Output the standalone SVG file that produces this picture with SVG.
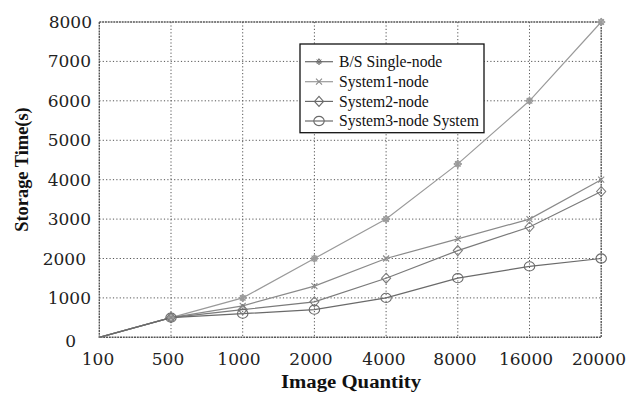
<svg xmlns="http://www.w3.org/2000/svg" xmlns:xlink="http://www.w3.org/1999/xlink" width="630" height="394" viewBox="0 0 630 394">
  <style>
    .grid { stroke: #555; stroke-width: 1; stroke-dasharray: 1.2 2.2; fill: none; }
    .frame { stroke: #555; stroke-width: 1.4; stroke-dasharray: 2 0.8; fill: none; }
    .tick { font-family: "DejaVu Serif", "Liberation Serif", serif; font-size: 17px; fill: #222; }
    .title { font-family: "Liberation Serif", "Times New Roman", serif; font-weight: bold; fill: #111; }
    .leg { font-family: "Liberation Serif", "Times New Roman", serif; font-size: 15.7px; fill: #111; }
    .s0 { stroke: #9a9a9a; }
    .s1 { stroke: #8a8a8a; }
    .s2 { stroke: #7a7a7a; }
    .s3 { stroke: #6a6a6a; }
    .line { fill: none; stroke-width: 1.2; }
    .mk { fill: none; stroke-width: 1.1; }
  </style>
  <defs>
    <!-- series markers, centred on the origin -->
    <g id="m-star"><path d="M-4 0H4M0 -4V4M-2.8 -2.8L2.8 2.8M-2.8 2.8L2.8 -2.8"/><path d="M0 -3.5L3.5 0L0 3.5L-3.5 0Z"/></g>
    <path id="m-x" d="M-3 -3L3 3M-3 3L3 -3"/>
    <path id="m-diamond" d="M0 -5L4.5 0L0 5L-4.5 0Z"/>
    <ellipse id="m-circle" cx="0" cy="0" rx="5.2" ry="4.6"/>
  </defs>

  <rect width="630" height="394" fill="#fff"/>

  <!-- grid -->
  <g id="grid">
    <path class="grid" d="M99.3 297.9H601.2M99.3 258.5H601.2M99.3 219.1H601.2M99.3 179.7H601.2M99.3 140.3H601.2M99.3 100.8H601.2M99.3 61.4H601.2"/>
    <path class="grid" d="M171 22V337.3M242.7 22V337.3M314.4 22V337.3M386.1 22V337.3M457.8 22V337.3M529.5 22V337.3"/>
  </g>

  <!-- plot frame -->
  <rect id="frame" class="frame" x="99.3" y="22" width="501.9" height="315.3"/>

  <!-- y axis ticks -->
  <g id="y-ticks" class="tick" text-anchor="end">
    <text x="92" y="28">8000</text>
    <text x="91" y="67.4">7000</text>
    <text x="91" y="106.8">6000</text>
    <text x="91" y="146.3">5000</text>
    <text x="91" y="185.7">4000</text>
    <text x="91" y="225.1">3000</text>
    <text x="86" y="264.5">2000</text>
    <text x="91" y="303.9">1000</text>
    <text x="76" y="347">0</text>
  </g>

  <!-- x axis ticks -->
  <g id="x-ticks" class="tick" text-anchor="middle">
    <text x="98" y="365">100</text>
    <text x="168" y="365">500</text>
    <text x="239" y="365">1000</text>
    <text x="311" y="365">2000</text>
    <text x="384" y="365">4000</text>
    <text x="455" y="365">8000</text>
    <text x="526" y="365">16000</text>
    <text x="599" y="365">20000</text>
  </g>

  <!-- axis titles -->
  <text id="x-title" class="title" x="351" y="388" font-size="18" text-anchor="middle" textLength="140" lengthAdjust="spacingAndGlyphs">Image Quantity</text>
  <text id="y-title" class="title" transform="translate(28 169.5) rotate(-90)" font-size="18.4" text-anchor="middle">Storage Time(s)</text>

  <!-- data series -->
  <g id="connectors">
    <polyline id="series-bs" class="line s0" points="99.3,337.3 171,317.6 242.7,297.9 314.4,258.5 386.1,219.1 457.8,163.9 529.5,100.8 601.2,22"/>
    <polyline id="series-1" class="line s1" points="99.3,337.3 171,317.6 242.7,305.8 314.4,286.1 386.1,258.5 457.8,238.8 529.5,219.1 601.2,179.7"/>
    <polyline id="series-2" class="line s2" points="99.3,337.3 171,317.6 242.7,309.7 314.4,301.8 386.1,278.2 457.8,250.6 529.5,227 601.2,191.5"/>
    <polyline id="series-3" class="line s3" points="99.3,337.3 171,317.6 242.7,313.7 314.4,309.7 386.1,297.9 457.8,278.2 529.5,266.4 601.2,258.5"/>
  </g>

  <g id="markers-bs" class="mk s0">
    <use href="#m-star" x="171" y="317.6"/>
    <use href="#m-star" x="242.7" y="297.9"/>
    <use href="#m-star" x="314.4" y="258.5"/>
    <use href="#m-star" x="386.1" y="219.1"/>
    <use href="#m-star" x="457.8" y="163.9"/>
    <use href="#m-star" x="529.5" y="100.8"/>
    <use href="#m-star" x="601.2" y="22"/>
  </g>
  <g id="markers-1" class="mk s1">
    <use href="#m-x" x="171" y="317.6"/>
    <use href="#m-x" x="242.7" y="305.8"/>
    <use href="#m-x" x="314.4" y="286.1"/>
    <use href="#m-x" x="386.1" y="258.5"/>
    <use href="#m-x" x="457.8" y="238.8"/>
    <use href="#m-x" x="529.5" y="219.1"/>
    <use href="#m-x" x="601.2" y="179.7"/>
  </g>
  <g id="markers-2" class="mk s2">
    <use href="#m-diamond" x="171" y="317.6"/>
    <use href="#m-diamond" x="242.7" y="309.7"/>
    <use href="#m-diamond" x="314.4" y="301.8"/>
    <use href="#m-diamond" x="386.1" y="278.2"/>
    <use href="#m-diamond" x="457.8" y="250.6"/>
    <use href="#m-diamond" x="529.5" y="227"/>
    <use href="#m-diamond" x="601.2" y="191.5"/>
  </g>
  <g id="markers-3" class="mk s3">
    <use href="#m-circle" x="171" y="317.6"/>
    <use href="#m-circle" x="242.7" y="313.7"/>
    <use href="#m-circle" x="314.4" y="309.7"/>
    <use href="#m-circle" x="386.1" y="297.9"/>
    <use href="#m-circle" x="457.8" y="278.2"/>
    <use href="#m-circle" x="529.5" y="266.4"/>
    <use href="#m-circle" x="601.2" y="258.5"/>
  </g>

  <!-- legend -->
  <g id="legend">
    <rect x="300" y="44" width="184" height="88.7" fill="#fff" stroke="#111" stroke-width="1.3"/>
    <g class="line">
      <path class="s3" d="M305 61.7H333"/>
      <path class="s0" d="M305 81.7H333" stroke="#bbb"/>
      <path class="s3" d="M305 101.4H333"/>
      <path class="s3" d="M305 121H333"/>
    </g>
    <use class="mk s3" href="#m-star" x="319" y="61.7" transform="translate(319 61.7) scale(0.8) translate(-319 -61.7)"/>
    <use class="mk s1" href="#m-x" x="319" y="81.7"/>
    <use class="mk s3" href="#m-diamond" x="319" y="101.4"/>
    <use class="mk s3" href="#m-circle" x="319" y="121"/>
    <g class="leg">
      <text x="339" y="67">B/S Single-node</text>
      <text x="339" y="87">System1-node</text>
      <text x="339" y="106.7">System2-node</text>
      <text x="339" y="126.3">System3-node System</text>
    </g>
  </g>
</svg>
